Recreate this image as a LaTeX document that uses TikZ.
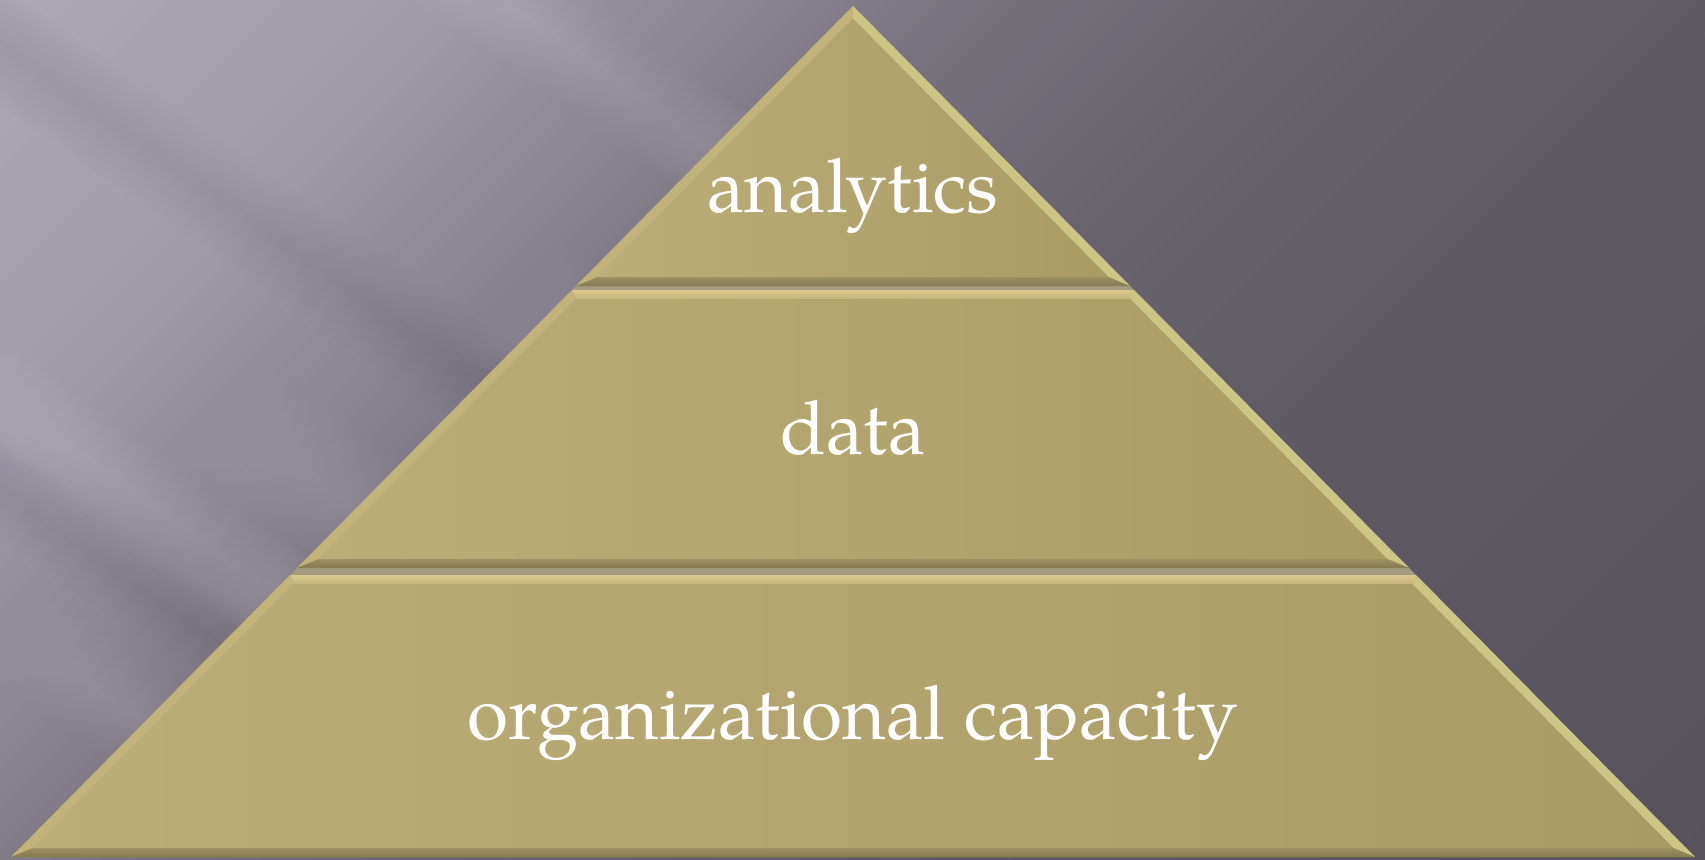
\documentclass[tikz,border=0pt]{standalone}
\usepackage{fontspec}
\setmainfont{TeX Gyre Pagella}
% background tones, light (upper left) to dark (lower right)
\definecolor{bgA}{HTML}{AFA9B7}
\definecolor{bgB}{HTML}{A09AA8}
\definecolor{bgC}{HTML}{8A8491}
\definecolor{bgD}{HTML}{76707B}
\definecolor{bgE}{HTML}{69646E}
\definecolor{bgF}{HTML}{5D5862}
\definecolor{bgG}{HTML}{58535B}
\definecolor{streakLight}{HTML}{C6C0CE}
\definecolor{streakDark}{HTML}{6F6979}
% pyramid tones
\definecolor{goldL}{HTML}{BCAE78}
\definecolor{goldR}{HTML}{A99B64}
\definecolor{bevTopA}{HTML}{DAC88C}
\definecolor{bevTopB}{HTML}{C6B67C}
\definecolor{bevBotA}{HTML}{9C9062}
\definecolor{bevBotB}{HTML}{847950}
\definecolor{bevRight}{HTML}{CDC585}
\definecolor{bevLeft}{HTML}{C1B37A}
\definecolor{seam}{HTML}{A29B80}
% soft streak along a line of slope 0.7: #1 offset, #2 half width, #3 colour, #4 opacity per layer
\newcommand\softstreak[4]{%
  \foreach \f in {1,0.9,0.8,0.7,0.6,0.5,0.4,0.3,0.2,0.1}{%
    \fill[#3, opacity=#4] (-50,{-35+#1-#2*\f}) -- (1000,{700+#1-#2*\f})
      -- (1000,{700+#1+#2*\f}) -- (-50,{-35+#1+#2*\f}) -- cycle;
  }}
\begin{document}
\begin{tikzpicture}[x=0.01cm, y=-0.01cm,
  facettop/.style={top color=bevTopA, bottom color=bevTopB},
  facetbot/.style={top color=bevBotA, bottom color=bevBotB},
  facetright/.style={fill=bevRight},
  facetleft/.style={fill=bevLeft},
  face/.style={left color=goldL, right color=goldR},
  tierlabel/.style={text=white, font=\fontsize{21.3}{25}\selectfont, inner sep=0pt, anchor=base}]
\useasboundingbox (0,0) rectangle (1705,859);

% diagonal background gradient
\begin{scope}
  \clip (0,0) rectangle (1705,859);
  \foreach \gA/\gB/\cA/\cB in {0/450/bgA/bgB, 450/750/bgB/bgC, 750/1000/bgC/bgD,
      1000/1300/bgD/bgE, 1300/1800/bgE/bgF, 1800/2570/bgF/bgG}{
    \pgfmathtruncatemacro\nst{(\gB-\gA)/10}
    \foreach \k in {0,...,\nst}{
      \pgfmathsetmacro\tpos{\gA+10*\k}
      \pgfmathsetmacro\mixp{100-100*\k/\nst}
      \fill[\cA!\mixp!\cB] (\tpos,0) -- ({\tpos+12},0) -- ({\tpos+12-870},870)
        -- ({\tpos-870},870) -- cycle;
    }
  }
\end{scope}

% soft light and dark streaks on the left
\begin{scope}
  \clip (0,0) -- (860,0) -- (0,870) -- cycle;
  \softstreak{-350}{60}{streakLight}{0.03}
  \softstreak{-60}{90}{streakLight}{0.015}
  \softstreak{45}{60}{streakDark}{0.02}
  \softstreak{260}{80}{streakLight}{0.02}
  \softstreak{400}{60}{streakLight}{0.03}
  \softstreak{490}{50}{streakDark}{0.025}
  \softstreak{620}{60}{streakLight}{0.02}
\end{scope}

% pyramid silhouette (shows in the seams between tiers)
\coordinate (apex) at (853,6);
\coordinate (baseL) at (11,857);
\coordinate (baseR) at (1695,857);
\fill[seam] (apex) -- (baseL) -- (baseR) -- cycle;

% top tier
\coordinate (t1Ai) at (853,18.8);
\coordinate (t1L) at (576,286);   \coordinate (t1R) at (1130,286);
\coordinate (t1Li) at (597.5,277); \coordinate (t1Ri) at (1108.5,277);
\fill[facetleft]  (apex) -- (t1L) -- (t1Li) -- (t1Ai) -- cycle;
\fill[facetright] (apex) -- (t1R) -- (t1Ri) -- (t1Ai) -- cycle;
\shade[facetbot]  (t1L) -- (t1R) -- (t1Ri) -- (t1Li) -- cycle;
\shade[face]      (t1Ai) -- (t1Ri) -- (t1Li) -- cycle;

% middle tier
\coordinate (t2TL) at (572,290);    \coordinate (t2TR) at (1134,290);
\coordinate (t2BL) at (297,568);    \coordinate (t2BR) at (1409,568);
\coordinate (t2TLi) at (575.8,299); \coordinate (t2TRi) at (1130.2,299);
\coordinate (t2BLi) at (318.6,559); \coordinate (t2BRi) at (1387.4,559);
\shade[facettop]  (t2TL) -- (t2TR) -- (t2TRi) -- (t2TLi) -- cycle;
\fill[facetleft]  (t2TL) -- (t2BL) -- (t2BLi) -- (t2TLi) -- cycle;
\fill[facetright] (t2TR) -- (t2BR) -- (t2BRi) -- (t2TRi) -- cycle;
\shade[facetbot]  (t2BL) -- (t2BR) -- (t2BRi) -- (t2BLi) -- cycle;
\shade[face]      (t2TLi) -- (t2TRi) -- (t2BRi) -- (t2BLi) -- cycle;

% bottom tier
\coordinate (t3TL) at (290,575);    \coordinate (t3TR) at (1416,575);
\coordinate (t3TLi) at (293.8,584); \coordinate (t3TRi) at (1412.2,584);
\coordinate (t3BLi) at (32.6,848);  \coordinate (t3BRi) at (1673.4,848);
\shade[facettop]  (t3TL) -- (t3TR) -- (t3TRi) -- (t3TLi) -- cycle;
\fill[facetleft]  (t3TL) -- (baseL) -- (t3BLi) -- (t3TLi) -- cycle;
\fill[facetright] (t3TR) -- (baseR) -- (t3BRi) -- (t3TRi) -- cycle;
\shade[facetbot]  (baseL) -- (baseR) -- (t3BRi) -- (t3BLi) -- cycle;
\shade[face]      (t3TLi) -- (t3TRi) -- (t3BRi) -- (t3BLi) -- cycle;

% tier labels
\node[tierlabel] (analytics) at (853,212) {analytics};
\node[tierlabel] (data) at (853,454) {data};
\node[tierlabel] (capacity) at (853,739) {organizational capacity};
\end{tikzpicture}
\end{document}
